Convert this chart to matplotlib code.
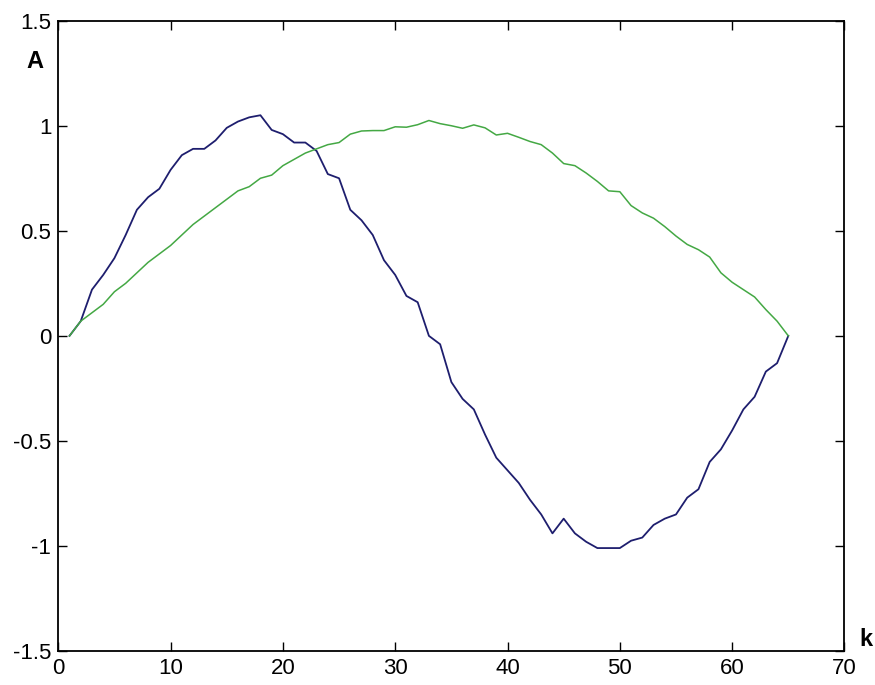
import numpy as np
import matplotlib.pyplot as plt

# sample index
k = np.arange(1, 66)

# first component (full period)
a_blue = [0.00, 0.07, 0.22, 0.29, 0.37, 0.48, 0.60, 0.66, 0.70, 0.79,
          0.86, 0.89, 0.89, 0.93, 0.99, 1.02, 1.04, 1.05, 0.98, 0.96,
          0.92, 0.92, 0.88, 0.77, 0.75, 0.60, 0.55, 0.48, 0.36, 0.29,
          0.19, 0.16, 0.00, -0.04, -0.22, -0.30, -0.35, -0.47, -0.58, -0.64,
          -0.70, -0.78, -0.85, -0.94, -0.87, -0.94, -0.98, -1.01, -1.01, -1.01,
          -0.975, -0.96, -0.90, -0.87, -0.85, -0.77, -0.73, -0.60, -0.54, -0.45,
          -0.35, -0.29, -0.17, -0.13, 0.00]

# second component (half period)
a_green = [0.00, 0.07, 0.11, 0.15, 0.21, 0.25, 0.30, 0.35, 0.39, 0.43,
           0.48, 0.53, 0.57, 0.61, 0.65, 0.69, 0.71, 0.75, 0.765, 0.81,
           0.84, 0.87, 0.89, 0.91, 0.92, 0.96, 0.975, 0.977, 0.977, 0.995,
           0.993, 1.005, 1.025, 1.01, 1.00, 0.988, 1.004, 0.99, 0.956, 0.964,
           0.945, 0.925, 0.91, 0.87, 0.82, 0.81, 0.775, 0.735, 0.69, 0.686,
           0.62, 0.585, 0.56, 0.52, 0.475, 0.435, 0.41, 0.375, 0.30, 0.255,
           0.22, 0.185, 0.125, 0.07, 0.00]

x_ticks = [0, 10, 20, 30, 40, 50, 60, 70]
y_ticks = [-1.5, -1, -0.5, 0, 0.5, 1, 1.5]
y_ticklabels = ['-1.5', '-1', '-0.5', '0', '0.5', '1', '1.5']

plt.rcParams['font.family'] = ['Liberation Sans', 'DejaVu Sans']

fig = plt.figure(figsize=(8.75, 6.85), dpi=100)
ax = fig.add_axes([0.0666, 0.0496, 0.8985, 0.9202])

ax.plot(k, a_blue, color='#1e1e6e', linewidth=1.3)
ax.plot(k, a_green, color='#44a844', linewidth=1.1)

ax.set_xlim(0, 70)
ax.set_ylim(-1.5, 1.5)
ax.set_xticks(x_ticks)
ax.set_yticks(y_ticks)
ax.set_yticklabels(y_ticklabels)
ax.tick_params(direction='in', length=6.5, width=1.0, top=True, right=True,
               labelsize=16, pad=5, colors='black')
for side in ax.spines.values():
    side.set_linewidth(1.3)

# axis names placed at the ends of the axes
fig.text(35 / 875, 1 - 62 / 685, 'A', fontsize=17, fontweight='bold',
         ha='center', va='center')
fig.text(866 / 875, 1 - 640 / 685, 'k', fontsize=17, fontweight='bold',
         ha='center', va='center')

fig.savefig('out.png', dpi=100)
